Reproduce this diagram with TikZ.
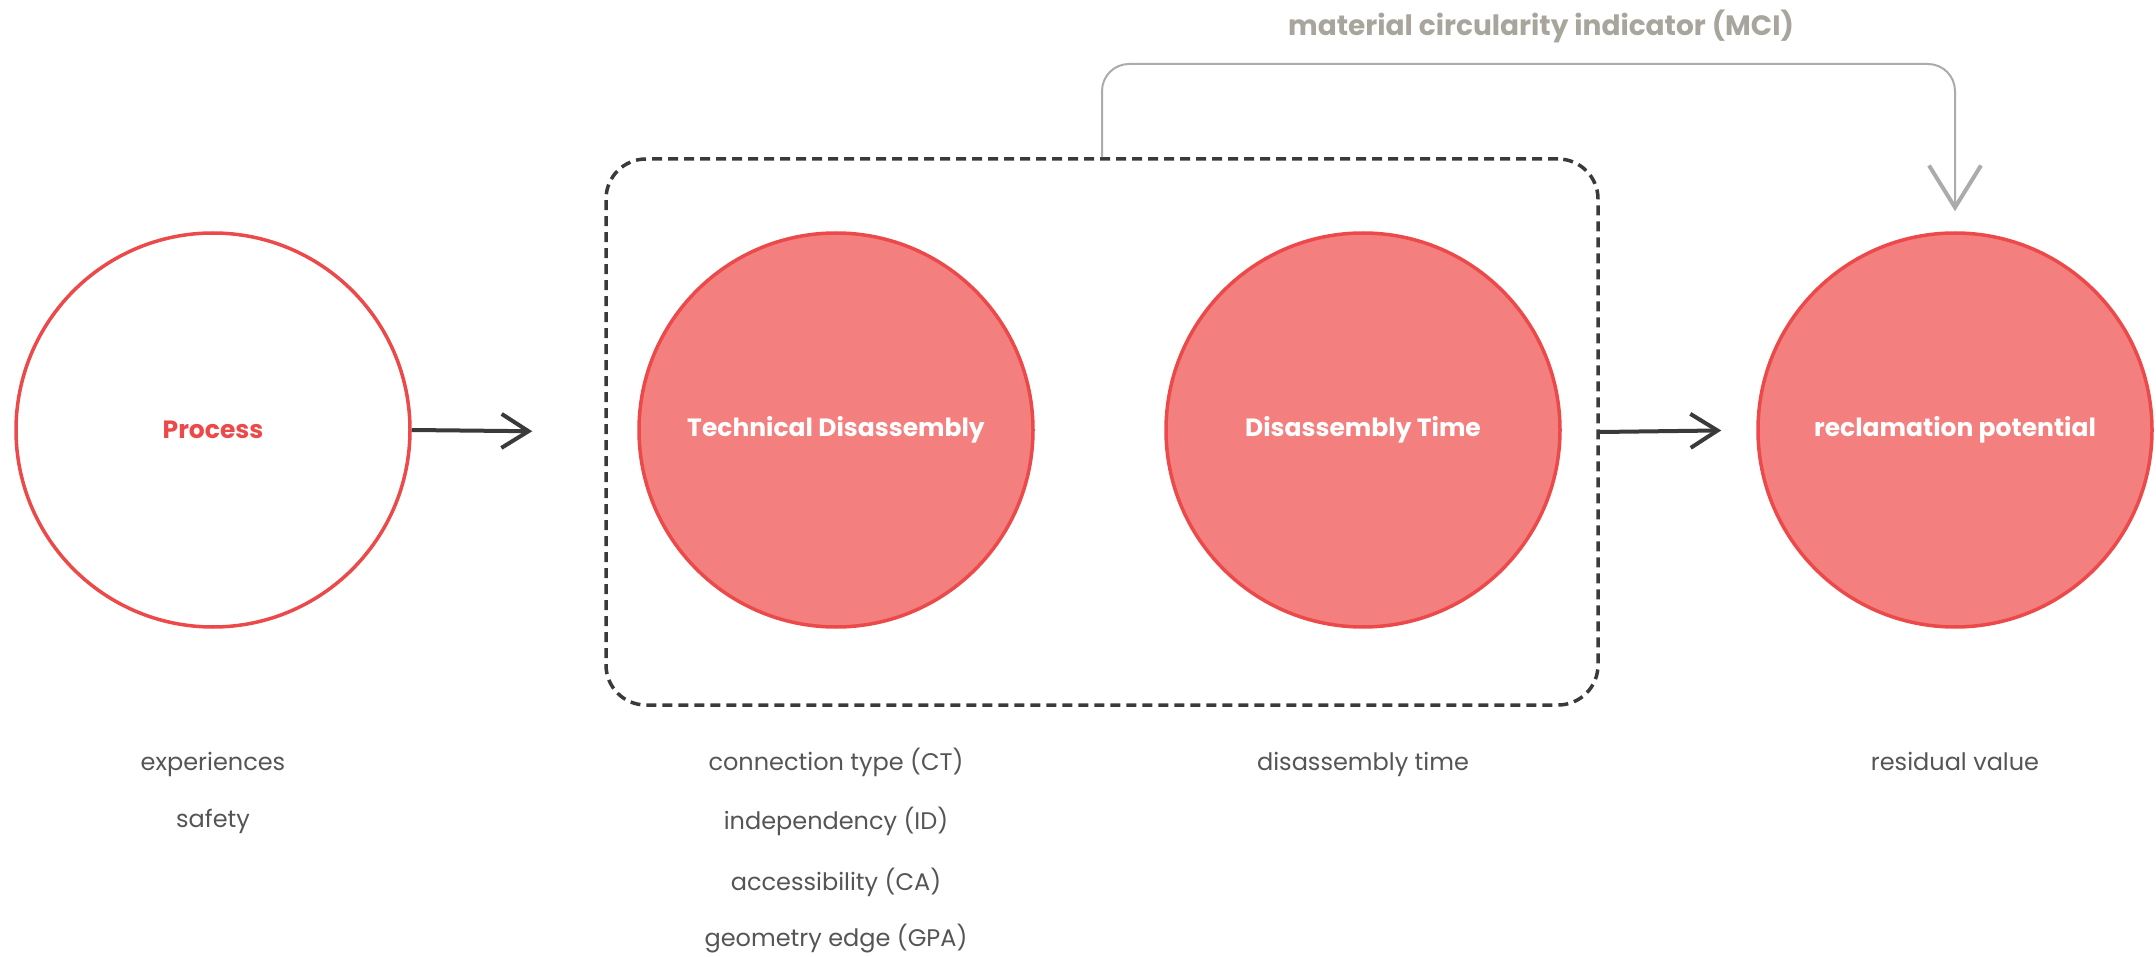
\documentclass[tikz,border=0pt]{standalone}
\usepackage{fontspec}
\setmainfont{Poppins}
\usetikzlibrary{arrows.meta}
\definecolor{cred}{HTML}{EC4A4A}
\definecolor{cfill}{HTML}{F37F7E}
\definecolor{cdark}{HTML}{3A3A3A}
\definecolor{cgrey}{HTML}{ABABAB}
\definecolor{ctext}{HTML}{555555}
\definecolor{cmci}{HTML}{A8A59D}
\begin{document}
\begin{tikzpicture}[x=1pt,y=-1pt,
  circ/.style={circle,draw=cred,line width=3.5pt,minimum size=394pt,inner sep=0pt,
    font=\fontsize{25}{30}\selectfont\bfseries},
  filled/.style={circ,fill=cfill,text=white},
  hollow/.style={circ,fill=white,text=cred},
  lbl/.style={font=\fontsize{24}{28}\selectfont,text=ctext,inner sep=0pt,text height=17pt,text depth=5pt},
  groupbox/.style={draw=cdark,line width=3.5pt,dash pattern=on 10pt off 6pt,rounded corners=40pt,
    minimum width=992pt,minimum height=546pt,inner sep=0pt},
  flow/.style={draw=cdark,line width=4pt,-{Straight Barb[length=27pt,width=34pt,line width=4pt]}},
  mci/.style={draw=cgrey,line width=2pt,rounded corners=27pt,-{Straight Barb[length=42pt,width=52pt,line width=4pt]}},
  mcilabel/.style={font=\fontsize{28}{32}\selectfont\bfseries,text=cmci,inner sep=0pt,anchor=base}
]
\useasboundingbox (0,0) rectangle (2156,957);

\node[groupbox] (box) at (1102,432) {};
\node[hollow] (proc) at (213,430) {Process};
\node[filled] (td) at (836,430) {Technical Disassembly};
\node[filled] (dt) at (1363,430) {Disassembly Time};
\node[filled] (rp) at (1955,430) {reclamation potential};

\coordinate (mcitop) at (1102,64);
\node[mcilabel] (mcil) at (1541,36) {material circularity indicator (MCI)};

\draw[flow,shorten >=72pt] (proc.east) -- (box.west);
\draw[flow,shorten >=35pt] (box.east) -- (rp.west);
\draw[mci,shorten >=20pt] (box.north) -- (box.north |- mcitop) -- (rp.north |- mcitop) -- (rp.north);

\node[lbl] (l1) at (213,764) {experiences};
\node[lbl] (l2) at (213,821) {safety};
\node[lbl] (l3) at (836,764) {connection type (CT)};
\node[lbl] (l4) at (836,823) {independency (ID)};
\node[lbl] (l5) at (836,884) {accessibility (CA)};
\node[lbl] (l6) at (836,940) {geometry edge (GPA)};
\node[lbl] (l7) at (1363,764) {disassembly time};
\node[lbl] (l8) at (1955,764) {residual value};
\end{tikzpicture}
\end{document}
